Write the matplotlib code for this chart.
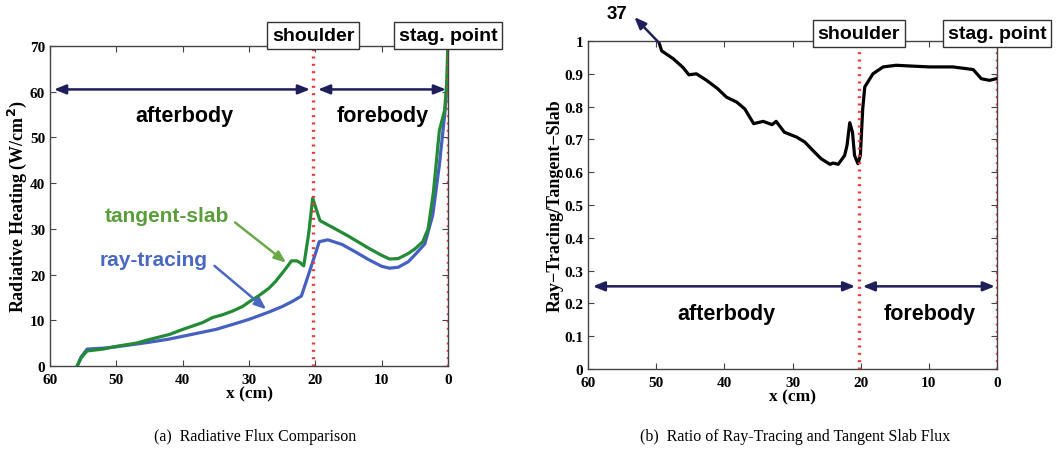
import matplotlib
matplotlib.use("Agg")
import matplotlib.pyplot as plt

# ---------------- data ----------------
# (a) radiative heating, W/cm^2 vs x (cm)
ts_x = [55.9, 55.3, 54.4, 52.0, 50.0, 47.0, 45.0, 42.0, 40.0, 38.0, 37.0, 35.5, 34.0, 32.5,
        31.0, 30.0, 28.5, 27.0, 26.0, 25.0, 24.2, 23.6, 22.8, 22.3, 21.75, 21.0, 20.4,
        19.3, 17.0, 15.0, 12.0, 10.0, 8.8, 7.5, 6.0, 5.0, 3.8, 3.0, 2.2, 1.3, 0.5, 0.2, 0.05]
ts_y = [0.0, 1.8, 3.3, 3.7, 4.3, 5.0, 5.8, 6.9, 8.0, 9.0, 9.5, 10.6, 11.2, 12.0,
        13.0, 14.0, 15.4, 17.0, 18.5, 20.3, 21.8, 23.0, 23.0, 22.6, 21.9, 29.0, 36.7,
        31.8, 30.0, 28.4, 25.8, 24.2, 23.4, 23.5, 24.6, 25.6, 27.2, 30.0, 38.0, 51.5, 56.0, 62.0, 69.0]
rt_x = [55.9, 55.3, 54.4, 52.0, 50.0, 47.0, 45.0, 42.0, 40.0, 37.0, 35.0, 32.0, 30.0, 27.0,
        25.0, 23.5, 22.1, 20.8, 19.4, 18.1, 16.0, 14.0, 12.0, 10.0, 8.8, 7.5, 6.0, 5.0,
        3.5, 2.3, 1.3, 0.5, 0.2, 0.05]
rt_y = [0.0, 2.0, 3.7, 3.9, 4.2, 4.8, 5.2, 5.9, 6.5, 7.4, 8.0, 9.3, 10.2, 11.8,
        13.0, 14.1, 15.3, 21.0, 27.2, 27.6, 26.6, 25.0, 23.3, 21.8, 21.4, 21.6, 22.8, 24.3,
        26.7, 33.0, 44.0, 55.0, 60.0, 62.0]

# (b) ratio ray-tracing / tangent-slab
r_x = [49.5, 49.2, 47.5, 46.1, 45.2, 44.1, 42.6, 41.0, 39.7, 38.2, 37.0, 35.7, 34.3, 33.0,
       32.4, 31.2, 29.4, 28.2, 27.0, 25.8, 24.5, 24.05, 23.3, 22.35, 22.0, 21.6, 21.2,
       20.9, 20.4, 20.05, 19.7, 19.4, 18.2, 16.7, 14.8, 12.0, 9.9, 6.5, 3.5, 2.3, 1.1, 0.1]
r_y = [0.99, 0.97, 0.946, 0.92, 0.897, 0.90, 0.88, 0.855, 0.829, 0.814, 0.793, 0.748, 0.755, 0.745,
       0.755, 0.722, 0.707, 0.692, 0.666, 0.641, 0.624, 0.628, 0.624, 0.651, 0.682, 0.751, 0.722,
       0.651, 0.626, 0.651, 0.793, 0.86, 0.90, 0.921, 0.926, 0.923, 0.921, 0.921, 0.913, 0.885, 0.88, 0.885]

x_ticks = [60, 50, 40, 30, 20, 10, 0]
ya_ticks = [0, 10, 20, 30, 40, 50, 60, 70]
yb_ticks = [0, 0.1, 0.2, 0.3, 0.4, 0.5, 0.6, 0.7, 0.8, 0.9, 1.0]
yb_labels = ["0", "0.1", "0.2", "0.3", "0.4", "0.5", "0.6", "0.7", "0.8", "0.9", "1"]
shoulder_x = 20.3
stag_x = 0.0

# ---------------- styling ----------------
SERIF = "Liberation Serif"
SANS = "Liberation Sans"
GREEN = "#238a35"
BLUE = "#4660c0"
NAVY = "#1e1e5a"
RED = "#e8383a"

fig = plt.figure(figsize=(10.6, 4.52), dpi=100)
axa = fig.add_axes([50/1060, 1-367/452, 398/1060, 320/452])
axb = fig.add_axes([588/1060, 1-370/452, 409/1060, 328/452])


def style_axes(ax, yticks, ylabels, ylabel):
    ax.set_xlim(60, 0)
    ax.set_xticks(x_ticks)
    ax.set_xticklabels([str(t) for t in x_ticks], fontfamily=SERIF, fontweight="bold", fontsize=11)
    ax.set_yticks(yticks)
    ax.set_yticklabels(ylabels, fontfamily=SERIF, fontweight="bold", fontsize=11)
    ax.tick_params(direction="in", top=True, right=True, length=4, width=0.8, color="#444444")
    ax.tick_params(axis="x", pad=5)
    ax.tick_params(axis="y", pad=3.5)
    ax.set_xlabel("x (cm)", fontfamily=SERIF, fontweight="bold", fontsize=12.5, labelpad=-0.5)
    ax.set_ylabel(ylabel, fontfamily=SERIF, fontweight="bold", fontsize=13, labelpad=0.5)
    for s in ax.spines.values():
        s.set_linewidth(1.0)
        s.set_color("#444444")


def place_boxes(ax, ybox):
    bbox = dict(boxstyle="square,pad=0.25", fc="white", ec="#333333", lw=1.0)
    tr = ax.get_xaxis_transform()
    ax.text(shoulder_x, ybox, "shoulder", transform=tr, ha="center", va="center",
            fontfamily=SANS, fontweight="bold", fontsize=14, bbox=bbox, zorder=10, clip_on=False)
    ax.text(stag_x, ybox, "stag. point", transform=tr, ha="center", va="center",
            fontfamily=SANS, fontweight="bold", fontsize=14, bbox=bbox, zorder=10, clip_on=False)
    for xv in (shoulder_x, stag_x):
        ax.axvline(xv, color=RED, ls=(0, (0.6, 1.6)), lw=2.4, zorder=4,
                   dash_capstyle="butt")


def double_arrow(ax, x0, x1, y):
    ax.annotate("", xy=(x1, y), xytext=(x0, y),
                arrowprops=dict(arrowstyle="<|-|>,head_length=0.7,head_width=0.28",
                                color=NAVY, lw=1.8, shrinkA=0, shrinkB=0), zorder=5)


# ---------------- (a) ----------------
style_axes(axa, ya_ticks, [str(t) for t in ya_ticks], "Radiative Heating (W/cm$^\\mathbf{2}$)")
axa.set_ylim(0, 70)
axa.plot(rt_x, rt_y, color=BLUE, lw=2.3, zorder=3)
axa.plot(ts_x, ts_y, color=GREEN, lw=2.3, zorder=3)
place_boxes(axa, 1.032)
double_arrow(axa, 59.4, 20.8, 60.5)
double_arrow(axa, 19.6, 0.3, 60.5)
axa.text(39.7, 54.8, "afterbody", ha="center", va="center", fontfamily=SANS,
         fontweight="bold", fontsize=15.5)
axa.text(9.8, 54.8, "forebody", ha="center", va="center", fontfamily=SANS,
         fontweight="bold", fontsize=15.5)
axa.text(42.4, 33.0, "tangent-slab", ha="center", va="center", fontfamily=SANS,
         fontweight="bold", fontsize=15, color="#5a9e3c")
axa.annotate("", xy=(24.4, 22.6), xytext=(32.1, 31.4),
             arrowprops=dict(arrowstyle="-|>,head_length=0.7,head_width=0.28",
                             color="#6aaa4a", lw=1.8, shrinkA=0, shrinkB=0))
axa.text(44.4, 23.4, "ray-tracing", ha="center", va="center", fontfamily=SANS,
         fontweight="bold", fontsize=15, color="#4a68c2")
axa.annotate("", xy=(27.4, 12.4), xytext=(35.2, 21.9),
             arrowprops=dict(arrowstyle="-|>,head_length=0.7,head_width=0.28",
                             color="#4a68c2", lw=1.8, shrinkA=0, shrinkB=0))

# ---------------- (b) ----------------
style_axes(axb, yb_ticks, yb_labels, "Ray\u2212Tracing/Tangent\u2212Slab")
axb.set_ylim(0, 1)
axb.plot(r_x, r_y, color="black", lw=2.3, zorder=3)
place_boxes(axb, 1.023)
double_arrow(axb, 59.3, 20.8, 0.252)
double_arrow(axb, 19.7, 0.3, 0.252)
axb.text(39.7, 0.168, "afterbody", ha="center", va="center", fontfamily=SANS,
         fontweight="bold", fontsize=15.5)
axb.text(9.9, 0.168, "forebody", ha="center", va="center", fontfamily=SANS,
         fontweight="bold", fontsize=15.5)
axb.annotate("", xy=(53.2, 1.073), xytext=(49.6, 0.995), annotation_clip=False,
             arrowprops=dict(arrowstyle="-|>,head_length=0.7,head_width=0.28",
                             color=NAVY, lw=1.8, shrinkA=0, shrinkB=0))
axb.text(55.7, 1.083, "37", ha="center", va="center", fontfamily=SANS,
         fontweight="bold", fontsize=13.5, clip_on=False)

# captions
fig.text(255/1060, 1-437/452, "(a)  Radiative Flux Comparison", ha="center", va="center",
         fontfamily=SERIF, fontsize=11.5)
fig.text(795/1060, 1-437/452, "(b)  Ratio of Ray-Tracing and Tangent Slab Flux", ha="center",
         va="center", fontfamily=SERIF, fontsize=11.5)

fig.savefig("out.png", dpi=100, facecolor="white")
